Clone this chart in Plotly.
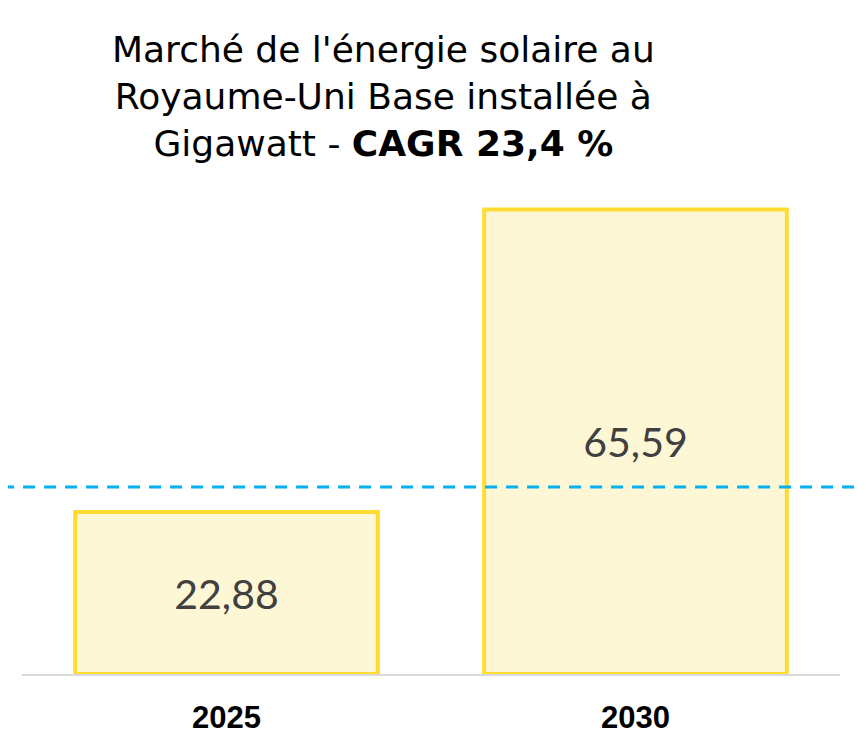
import plotly.graph_objects as go

# data
years = ['2025', '2030']
capacity_gw = [22.88, 65.59]
value_labels = ['22,88', '65,59']
ref_line_value = 26.4

title_text = ("Marché de l'énergie solaire au<br>Royaume-Uni Base installée à<br>"
              "Gigawatt - <b>CAGR 23,4 %</b>")

bars = go.Bar(
    x=years, y=capacity_gw, text=value_labels,
    textposition='inside', insidetextanchor='middle',
    textfont=dict(family='Lato', size=41, color='#404040'),
    marker=dict(color='#FEF7D6', line=dict(color='#FFDC32', width=4)),
    width=0.74, hoverinfo='skip',
)

layout = go.Layout(
    width=866, height=750,
    margin=dict(l=14, r=34, t=181, b=84),
    paper_bgcolor='white', plot_bgcolor='white',
    showlegend=False,
    xaxis=dict(showgrid=False, showline=True, linecolor='#D9D9D9', linewidth=2,
               ticks='', ticklabelstandoff=15, layer='below traces',
               tickfont=dict(family='Liberation Sans', size=31, color='black', weight='bold')),
    yaxis=dict(range=[0, 68.5], visible=False, showgrid=False),
)

fig = go.Figure(data=[bars], layout=layout)

# title as an annotation so the three lines sit where they should
fig.add_annotation(text=title_text, xref='paper', yref='paper', x=0.442, y=1.335,
                   xanchor='center', yanchor='top', showarrow=False, align='center',
                   font=dict(family='DejaVu Sans', size=36, color='black'))

fig.add_shape(type='line', xref='paper', yref='y', x0=-0.05, x1=1.04,
              y0=ref_line_value, y1=ref_line_value,
              line=dict(color='#00B0F0', width=3, dash='12px,9px'), layer='above')

fig.write_html("out.html")
